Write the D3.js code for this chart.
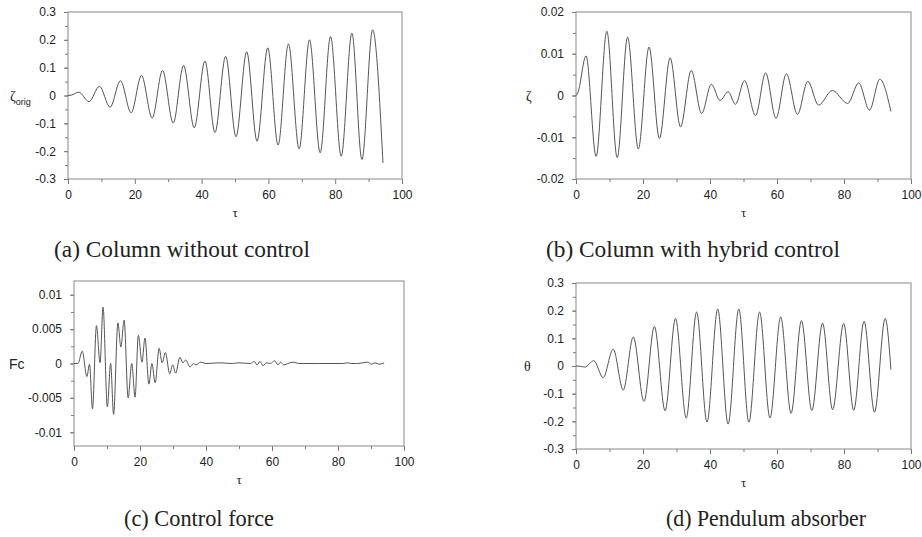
<!DOCTYPE html>
<meta charset="utf-8">
<script src="https://d3js.org/d3.v7.js"></script>
<style>
  body { margin: 0; background: #fff; }
  text { fill: #222; }
</style>
<div id="chart"></div>
<script>

// (a) column without control - extrema
const tauA  = [0, 0.9, 3.2, 6.3, 9.4, 12.6, 15.7, 18.9, 22.0, 25.2, 28.3, 31.5, 34.6, 37.8, 41.0, 44.0, 47.2, 50.3, 53.5, 56.6, 59.8, 62.9, 66.0, 69.2, 72.3, 75.5, 78.6, 81.8, 85.0, 88.0, 91.2, 94.3];
const zetaA = [0, 0.001, 0.012, -0.022, 0.033, -0.042, 0.053, -0.062, 0.072, -0.081, 0.090, -0.099, 0.108, -0.116, 0.124, -0.133, 0.141, -0.148, 0.157, -0.164, 0.171, -0.178, 0.185, -0.192, 0.200, -0.206, 0.212, -0.218, 0.224, -0.230, 0.236, -0.242];

// (b) column with hybrid control
const tauB  = [0, 0.6, 3.0, 6.0, 9.2, 12.3, 15.4, 18.6, 21.8, 24.9, 28.1, 31.2, 34.4, 37.5, 40.4, 43.0, 45.4, 47.6, 50.3, 53.6, 56.6, 59.7, 62.8, 66.1, 69.2, 72.4, 76.5, 81.1, 84.4, 87.6, 90.7, 94.0];
const zetaB = [0, 0.0008, 0.0095, -0.0146, 0.0154, -0.0149, 0.0140, -0.0128, 0.0116, -0.0103, 0.0090, -0.0075, 0.0060, -0.0043, 0.0027, -0.0012, 0.0009, -0.0021, 0.0036, -0.0048, 0.0054, -0.0055, 0.0052, -0.0045, 0.0034, -0.0023, 0.0012, -0.0019, 0.0030, -0.0035, 0.0039, -0.0038];

// (c) control force
const tauC = [0, 1.2, 2.5, 3.9, 4.7, 5.6, 6.8, 7.9, 8.8, 10.1, 11.1, 12.0, 13.3, 14.2, 15.2, 16.4, 17.5, 18.5, 19.5, 20.6, 21.5, 22.7, 23.6, 24.6, 25.8, 26.7, 27.7, 29.0, 29.9, 30.8, 32.1, 33.0, 33.8, 35.2, 36.2, 37.0, 38.4, 40.0, 44.0, 48.0, 50.0, 53.5, 54.6, 55.5, 56.3, 57.3, 58.3, 59.5, 60.8, 61.8, 62.6, 63.6, 64.8, 66.6, 68.0, 74.0, 81.5, 82.9, 84.0, 86.0, 89.0, 90.2, 91.2, 92.5, 94.0];
const forceC = [0, 0, 0.0018, -0.0019, -0.0001, -0.0066, 0.0055, 0.0001, 0.0082, -0.0063, 0, -0.0074, 0.0059, 0.0024, 0.0063, -0.0050, 0, -0.0049, 0.0041, 0.0002, 0.0037, -0.0030, 0, -0.0028, 0.0022, 0.0001, 0.0016, -0.0015, -0.0002, -0.0014, 0.0009, 0.0001, 0.0005, -0.0005, 0, -0.0002, 0.0002, 0, 0.0001, 0, 0.0001, 0, 0.0003, -0.0002, 0.0003, -0.0003, 0.0001, 0, 0.0004, -0.0002, 0.0002, -0.0002, 0, 0.0002, 0, 0, 0, 0.0001, 0, 0, 0.0002, -0.0001, 0.0001, -0.0001, 0.0001];

// (d) pendulum absorber
const tauD  = [0, 1.3, 2.6, 5.3, 8.1, 11.1, 14.1, 17.1, 20.3, 23.4, 26.6, 29.7, 32.9, 36.0, 39.1, 42.3, 45.4, 48.6, 51.6, 54.8, 57.9, 61.1, 64.2, 67.3, 70.4, 73.6, 76.6, 79.9, 82.9, 86.0, 89.1, 92.3, 94.0];
const thetaD = [0, -0.001, -0.004, 0.019, -0.042, 0.061, -0.087, 0.105, -0.128, 0.143, -0.162, 0.172, -0.188, 0.195, -0.203, 0.206, -0.210, 0.206, -0.203, 0.195, -0.188, 0.177, -0.171, 0.164, -0.161, 0.155, -0.158, 0.154, -0.160, 0.162, -0.167, 0.172, -0.013];

const tauTicks = [0, 20, 40, 60, 80, 100];
const tauMinor = [10, 30, 50, 70, 90];

const svg = d3.select("#chart").append("svg")
  .attr("width", 922)
  .attr("height", 537);

const panels = [
  {box: [68, 12, 402, 179], tau: tauA, val: zetaA, dom: [-0.3, 0.3],
   ticks: [-0.3, -0.2, -0.1, 0, 0.1, 0.2, 0.3], step: 0.05, label: "ζ", sub: "orig", lx: 10,
   caption: "(a) Column without control", cx: 54, cy: 257, cs: 23, cw: 256},
  {box: [576, 12, 911, 179], tau: tauB, val: zetaB, dom: [-0.02, 0.02],
   ticks: [-0.02, -0.01, 0, 0.01, 0.02], step: 0.005, label: "ζ", lx: 526,
   caption: "(b) Column with hybrid control", cx: 546, cy: 257, cs: 23, cw: 294},
  {box: [74, 281, 404, 446], tau: tauC, val: forceC, dom: [-0.012, 0.012],
   ticks: [-0.01, -0.005, 0, 0.005, 0.01], step: 0.0025, label: "Fc", lx: 9, sans: true,
   caption: "(c) Control force", cx: 124, cy: 526, cs: 24, cw: 150},
  {box: [576, 283, 911, 449], tau: tauD, val: thetaD, dom: [-0.3, 0.3],
   ticks: [-0.3, -0.2, -0.1, 0, 0.1, 0.2, 0.3], step: 0.05, label: "θ", lx: 524,
   caption: "(d) Pendulum absorber", cx: 666, cy: 526, cs: 24, cw: 200}
];

panels.forEach(function(p) {
  const [x0, y0, x1, y1] = p.box;
  const x = d3.scaleLinear().domain([0, 100]).range([x0, x1]);
  const y = d3.scaleLinear().domain(p.dom).range([y1, y0]);
  const g = svg.append("g");

  // minor ticks on the value axis
  const minor = d3.range(Math.ceil(p.dom[0] / p.step - 1e-6), Math.floor(p.dom[1] / p.step + 1e-6) + 1)
    .map(k => +(k * p.step).toFixed(5));

  g.append("g")
    .attr("transform", `translate(${x0},0)`)
    .call(d3.axisLeft(y).tickValues(minor).tickSize(3).tickFormat(""))
    .call(a => a.select(".domain").remove());

  g.append("g")
    .attr("transform", `translate(${x0},0)`)
    .call(d3.axisLeft(y).tickValues(p.ticks).tickSize(4).tickPadding(8)
      .tickFormat(d => String(+d.toFixed(4))))
    .call(a => a.select(".domain").remove())
    .call(a => a.selectAll("text").attr("font-family", "Liberation Sans, Arial, sans-serif").attr("font-size", 12).attr("fill", "#222"));

  g.append("g")
    .attr("transform", `translate(0,${y1})`)
    .call(d3.axisBottom(x).tickValues(tauMinor).tickSize(3).tickFormat(""))
    .call(a => a.select(".domain").remove());

  g.append("g")
    .attr("transform", `translate(0,${y1})`)
    .call(d3.axisBottom(x).tickValues(tauTicks).tickSize(5).tickPadding(6))
    .call(a => a.select(".domain").remove())
    .call(a => a.selectAll("text").attr("font-family", "Liberation Sans, Arial, sans-serif").attr("font-size", 12).attr("fill", "#222"));

  g.selectAll(".tick line").attr("stroke", "#777");

  // frame
  g.append("rect")
    .attr("x", x0).attr("y", y0)
    .attr("width", x1 - x0).attr("height", y1 - y0)
    .attr("fill", "none").attr("stroke", "#888").attr("stroke-width", 1);

  // the curve
  const pts = p.tau.map((t, i) => [t, p.val[i]]);
  g.append("path")
    .datum(pts)
    .attr("fill", "none")
    .attr("stroke", "#555")
    .attr("stroke-width", 1)
    .attr("d", d3.line().x(d => x(d[0])).y(d => y(d[1])).curve(d3.curveMonotoneX));

  // tau label
  g.append("text")
    .attr("x", (x0 + x1) / 2).attr("y", y1 + 38)
    .attr("text-anchor", "middle")
    .attr("font-family", "Liberation Serif, Times New Roman, serif")
    .attr("font-size", 13)
    .text("τ");

  // value label
  const lab = g.append("text")
    .attr("x", p.lx).attr("y", y(0) + 5)
    .attr("font-family", p.sans ? "Liberation Sans, Arial, sans-serif" : "Liberation Serif, Times New Roman, serif")
    .attr("font-size", 14)
    .text(p.label);
  if (p.sub) {
    lab.append("tspan").attr("dy", 4).attr("font-size", 9)
      .attr("font-family", "Liberation Sans, Arial, sans-serif").text(p.sub);
  }

  // caption
  svg.append("text")
    .attr("x", p.cx).attr("y", p.cy)
    .attr("font-family", "Liberation Serif, Times New Roman, serif")
    .attr("font-size", p.cs)
    .attr("textLength", p.cw)
    .attr("lengthAdjust", "spacingAndGlyphs")
    .text(p.caption);
});

</script>
